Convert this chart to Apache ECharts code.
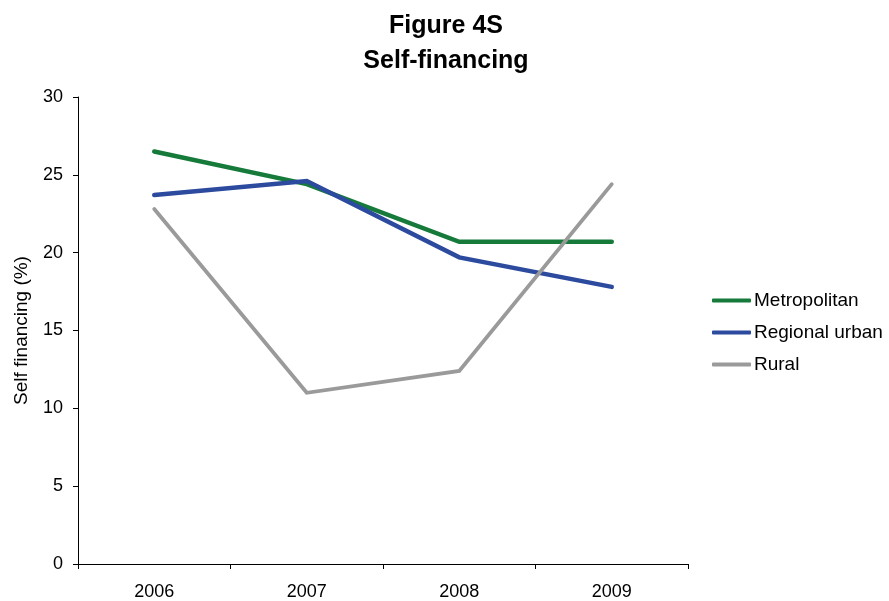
<!DOCTYPE html>
<html>
<head>
<meta charset="utf-8">
<script src="https://cdn.jsdelivr.net/npm/echarts@6/dist/echarts.min.js"></script>
<style>
  html, body { margin: 0; padding: 0; background: #fff; }
  #chart { width: 889px; height: 601px; }
</style>
</head>
<body>
<div id="chart"></div>
<script>
// Self-financing share by area type, 2006-2009
const years = ['2006', '2007', '2008', '2009'];
const metropolitan = [26.5, 24.4, 20.7, 20.7];
const regionalUrban = [23.7, 24.6, 19.7, 17.8];
const rural = [22.8, 11.0, 12.4, 24.4];
const yTicks = { min: 0, max: 30, interval: 5 };

const font = 'Liberation Sans, Arial, sans-serif';

const chart = echarts.init(document.getElementById('chart'), null, { renderer: 'canvas' });

function lineSeries(name, data, color, width) {
  return {
    name: name,
    type: 'line',
    data: data,
    symbol: 'none',
    lineStyle: { color: color, width: width, cap: 'round', join: 'miter' },
    itemStyle: { color: color },
    emphasis: { disabled: true },
    animation: false
  };
}

chart.setOption({
  animation: false,
  backgroundColor: '#fff',
  title: {
    text: 'Figure 4S\nSelf-financing',
    left: 441,
    textAlign: 'center',
    top: 4,
    textStyle: {
      fontFamily: font,
      fontSize: 25,
      fontWeight: 'bold',
      color: '#000',
      lineHeight: 35
    }
  },
  legend: {
    orient: 'vertical',
    left: 707,
    top: 286,
    itemGap: 13,
    itemWidth: 39,
    itemHeight: 4,
    icon: 'roundRect',
    textStyle: { fontFamily: font, fontSize: 19, color: '#000', padding: [0, 0, 0, -2] },
    data: ['Metropolitan', 'Regional urban', 'Rural']
  },
  grid: { left: 78, right: 201, top: 97, bottom: 37, containLabel: false },
  xAxis: {
    type: 'category',
    data: years,
    boundaryGap: true,
    axisLine: { lineStyle: { color: '#000', width: 1 } },
    axisTick: { show: true, length: 5, inside: false, lineStyle: { color: '#000' } },
    axisLabel: { fontFamily: font, fontSize: 18, color: '#000', margin: 19 },
    splitLine: { show: false }
  },
  yAxis: {
    type: 'value',
    min: yTicks.min,
    max: yTicks.max,
    interval: yTicks.interval,
    name: 'Self financing (%)',
    nameLocation: 'middle',
    nameGap: 47,
    nameRotate: 90,
    nameTextStyle: { fontFamily: font, fontSize: 19, color: '#000' },
    axisLine: { show: true, lineStyle: { color: '#000', width: 1 } },
    axisTick: { show: true, length: 5, lineStyle: { color: '#000' } },
    axisLabel: { fontFamily: font, fontSize: 18, color: '#000', margin: 15 },
    splitLine: { show: false }
  },
  series: [
    lineSeries('Metropolitan', metropolitan, '#157a3a', 4.5),
    lineSeries('Regional urban', regionalUrban, '#2c4a9e', 4.5),
    lineSeries('Rural', rural, '#9a9a9a', 3.8)
  ]
});
</script>
</body>
</html>
